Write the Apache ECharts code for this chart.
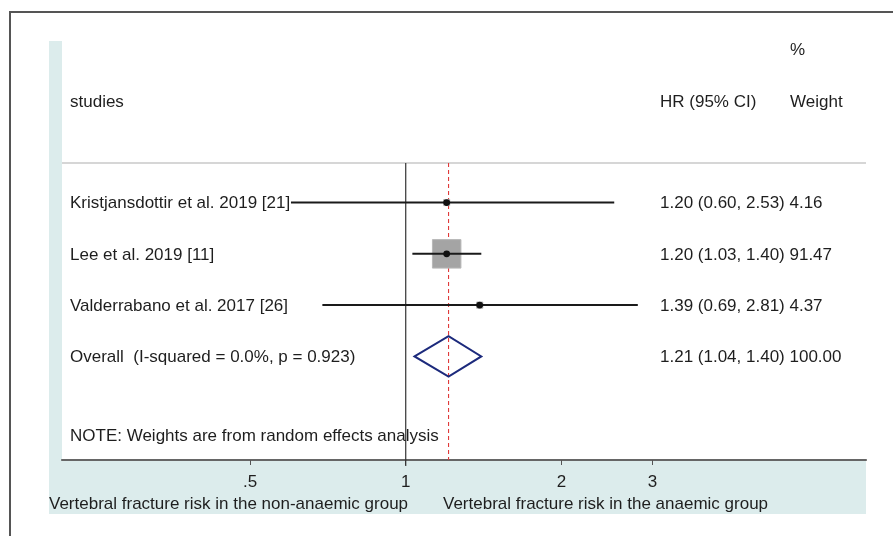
<!DOCTYPE html>
<html>
<head>
<meta charset="utf-8">
<script src="https://cdn.jsdelivr.net/npm/echarts@6/dist/echarts.min.js"></script>
<style>
  html, body { margin: 0; padding: 0; background: #fff; }
  #chart { width: 893px; height: 536px; }
</style>
</head>
<body>
<div id="chart"></div>
<script>
// Study-level hazard ratios (random effects meta-analysis)
const studies = ['Kristjansdottir et al. 2019 [21]', 'Lee et al. 2019 [11]', 'Valderrabano et al. 2017 [26]'];
const hr = [1.20, 1.20, 1.39];
const ciLow = [0.60, 1.03, 0.69];
const ciHigh = [2.53, 1.40, 2.81];
const weights = [4.16, 91.47, 4.37];

// Pooled estimate
const overallLabel = 'Overall  (I-squared = 0.0%, p = 0.923)';
const overall = [1.21, 1.04, 1.40];
const overallWeight = 100.00;

// Axis ticks (HR scale, plotted on log scale)
const tickValues = [0.5, 1, 2, 3];
const tickLabels = ['.5', '1', '2', '3'];
const xRange = [0.2165, 7.76];

const FONT_FAMILY = '"Liberation Sans", Arial, sans-serif';
const FONT = '17px ' + FONT_FAMILY;
const TXT = '#1e1e1e';
const rowY = [1, 2, 3];
const overallRow = 4;
const headerRow = 0.23;
const maxW = Math.max(...weights);

const fmt = (v) => v.toFixed(2);

const chart = echarts.init(document.getElementById('chart'), null, { renderer: 'canvas' });

const studyData = studies.map((s, i) => [i, rowY[i]]);

const option = {
  animation: false,
  grid: { left: 62, right: 27, top: 41, bottom: 76, containLabel: false },
  xAxis: {
    type: 'value',
    min: Math.log(xRange[0]),
    max: Math.log(xRange[1]),
    axisLine: { show: true, onZero: false, lineStyle: { color: '#666', width: 2.2 } },
    axisTick: { show: true, customValues: tickValues.map(Math.log), length: 5, lineStyle: { color: '#555', width: 1 } },
    axisLabel: {
      customValues: tickValues.map(Math.log),
      margin: 14,
      color: TXT,
      fontSize: 17,
      fontFamily: FONT_FAMILY,
      formatter: (v) => {
        let best = 0;
        tickValues.forEach((t, i) => { if (Math.abs(Math.log(t) - v) < Math.abs(Math.log(tickValues[best]) - v)) best = i; });
        return tickLabels[best];
      }
    },
    splitLine: { show: false }
  },
  yAxis: { type: 'value', min: -2.15, max: 6.02, inverse: true, show: false },
  series: [
    {
      // header rule, null line and pooled-estimate line
      type: 'custom',
      data: [[0, 0]],
      z: 1,
      renderItem: (params, api) => {
        const cs = params.coordSys;
        const yHead = api.coord([0, headerRow])[1];
        const yBottom = cs.y + cs.height;
        const x1 = api.coord([0, 0])[0];
        const xo = api.coord([Math.log(overall[0]), 0])[0];
        return {
          type: 'group',
          children: [
            { type: 'line', shape: { x1: cs.x, y1: yHead, x2: cs.x + cs.width, y2: yHead }, style: { stroke: '#c8c8c8', lineWidth: 1.5 } },
            { type: 'line', shape: { x1: x1, y1: yHead, x2: x1, y2: yBottom + 6 }, style: { stroke: '#333', lineWidth: 1.2 } },
            { type: 'line', shape: { x1: xo, y1: yHead, x2: xo, y2: yBottom }, style: { stroke: '#e03a3a', lineWidth: 1.1, lineDash: [4, 3] } }
          ]
        };
      }
    },
    {
      // individual studies: CI line, weight box, point estimate, labels
      type: 'custom',
      data: studyData,
      z: 3,
      renderItem: (params, api) => {
        const i = api.value(0);
        const r = api.value(1);
        const pLo = api.coord([Math.log(ciLow[i]), r]);
        const pHi = api.coord([Math.log(ciHigh[i]), r]);
        const pE = api.coord([Math.log(hr[i]), r]);
        const side = Math.sqrt(weights[i] / maxW) * 28.5;
        return {
          type: 'group',
          children: [
            { type: 'rect', shape: { x: pE[0] - side / 2, y: pE[1] - side / 2, width: side, height: side }, style: { fill: '#a4a4a4', stroke: '#b8b8b8', lineWidth: 1 } },
            { type: 'line', shape: { x1: pLo[0], y1: pLo[1], x2: pHi[0], y2: pHi[1] }, style: { stroke: '#1a1a1a', lineWidth: 2 } },
            { type: 'circle', shape: { cx: pE[0], cy: pE[1], r: 3.4 }, style: { fill: '#111' } },
            { type: 'text', style: { text: studies[i], x: 70, y: pE[1] + 1, font: FONT, fill: TXT, align: 'left', verticalAlign: 'middle' } },
            { type: 'text', style: { text: fmt(hr[i]) + ' (' + fmt(ciLow[i]) + ', ' + fmt(ciHigh[i]) + ') ' + fmt(weights[i]), x: 660, y: pE[1] + 1, font: FONT, fill: TXT, align: 'left', verticalAlign: 'middle' } }
          ]
        };
      }
    },
    {
      // pooled estimate diamond
      type: 'custom',
      data: [[0, overallRow]],
      z: 3,
      renderItem: (params, api) => {
        const r = api.value(1);
        const pL = api.coord([Math.log(overall[1]), r]);
        const pR = api.coord([Math.log(overall[2]), r]);
        const pC = api.coord([Math.log(overall[0]), r]);
        const h = 20.3;
        return {
          type: 'group',
          children: [
            { type: 'polygon', shape: { points: [[pL[0], pC[1]], [pC[0], pC[1] - h], [pR[0], pC[1]], [pC[0], pC[1] + h]] }, style: { fill: 'none', stroke: '#1c2a7c', lineWidth: 2 } },
            { type: 'text', style: { text: overallLabel, x: 70, y: pC[1] + 1, font: FONT, fill: TXT, align: 'left', verticalAlign: 'middle' } },
            { type: 'text', style: { text: fmt(overall[0]) + ' (' + fmt(overall[1]) + ', ' + fmt(overall[2]) + ') ' + fmt(overallWeight), x: 660, y: pC[1] + 1, font: FONT, fill: TXT, align: 'left', verticalAlign: 'middle' } }
          ]
        };
      }
    }
  ],
  graphic: [
    { type: 'rect', z: -10, shape: { x: 49, y: 41, width: 13, height: 473 }, style: { fill: '#dcecec' } },
    { type: 'rect', z: -10, shape: { x: 49, y: 461, width: 817, height: 53 }, style: { fill: '#dcecec' } },
    { type: 'polyline', z: 10, shape: { points: [[10, 536], [10, 12], [893, 12]] }, style: { stroke: '#555', lineWidth: 2, fill: 'none' } },
    { type: 'text', z: 10, style: { text: '%', x: 790, y: 50, font: FONT, fill: TXT, verticalAlign: 'middle' } },
    { type: 'text', z: 10, style: { text: 'studies', x: 70, y: 102, font: FONT, fill: TXT, verticalAlign: 'middle' } },
    { type: 'text', z: 10, style: { text: 'HR (95% CI)', x: 660, y: 102, font: FONT, fill: TXT, verticalAlign: 'middle' } },
    { type: 'text', z: 10, style: { text: 'Weight', x: 790, y: 102, font: FONT, fill: TXT, verticalAlign: 'middle' } },
    { type: 'text', z: 10, style: { text: 'NOTE: Weights are from random effects analysis', x: 70, y: 436, font: FONT, fill: TXT, verticalAlign: 'middle' } },
    { type: 'text', z: 10, style: { text: 'Vertebral fracture risk in the non-anaemic group', x: 49, y: 504, font: FONT, fill: TXT, verticalAlign: 'middle' } },
    { type: 'text', z: 10, style: { text: 'Vertebral fracture risk in the anaemic group', x: 443, y: 504, font: FONT, fill: TXT, verticalAlign: 'middle' } }
  ]
};

chart.setOption(option);
</script>
</body>
</html>
